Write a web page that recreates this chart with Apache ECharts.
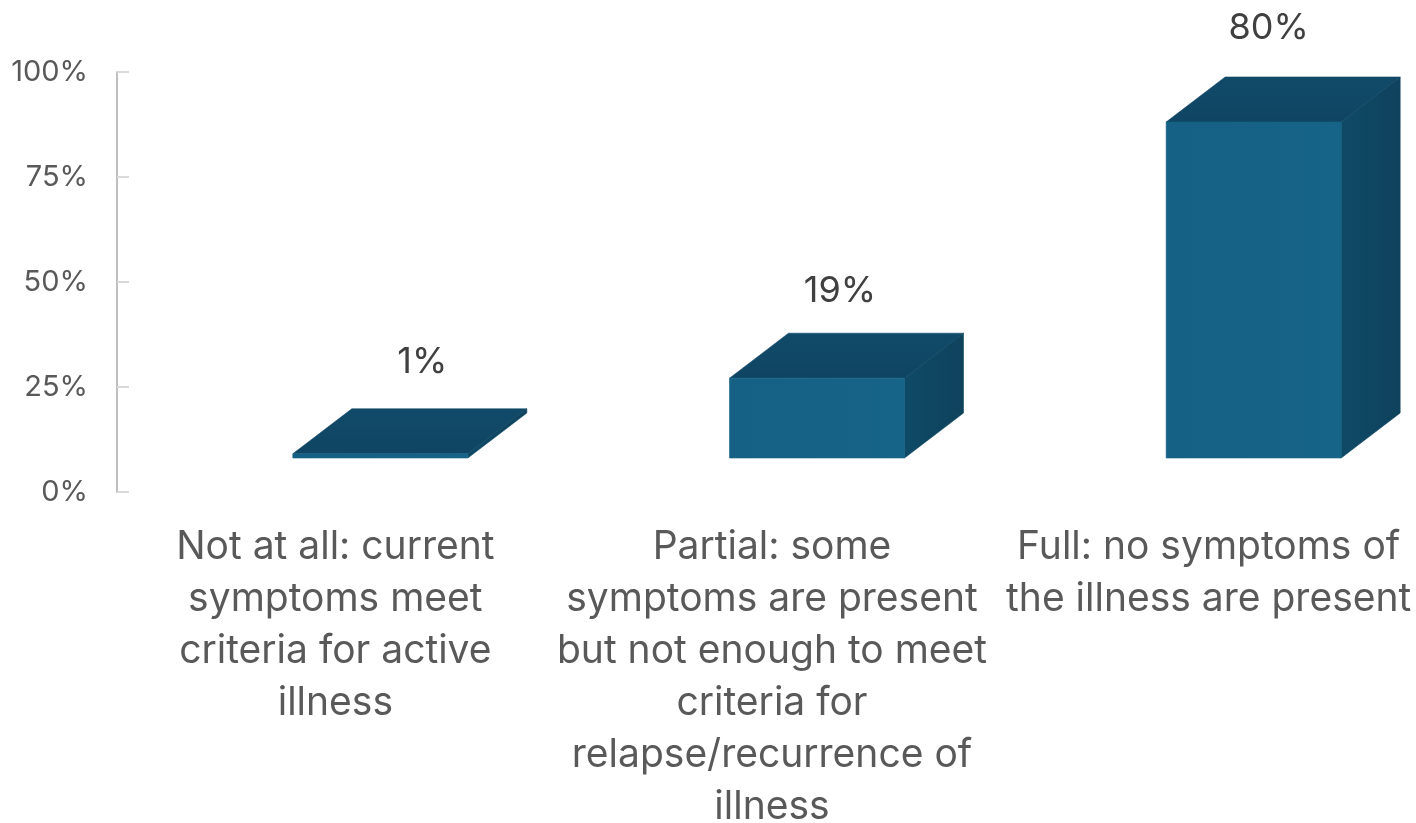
<!DOCTYPE html>
<html><head><meta charset="utf-8">
<script src="https://cdn.jsdelivr.net/npm/echarts@6/dist/echarts.min.js"></script>
<style>html,body{margin:0;padding:0;background:#fff}#c{width:1416px;height:823px}</style>
</head><body><div id="c"></div>
<script>
const categories = [
  "Not at all: current\nsymptoms meet\ncriteria for active\nillness",
  "Partial: some\nsymptoms are present\nbut not enough to meet\ncriteria for\nrelapse/recurrence of\nillness",
  "Full: no symptoms of\nthe illness are present"
];
const values = [1, 19, 80];
const yTicks = [0, 25, 50, 75, 100];

const FONT = 'Inter, sans-serif';
const BAR_W = 175, DX = 59, DY = 45, SHIFT_X = 45, BASE_UP = 34;
const LABEL_NUDGE_X = [42, 23, 15];
const LABEL_NUDGE_Y = [2, 7, 0];

function grad(x0, y0, x1, y1, a, b) {
  return { type: 'linear', x: x0, y: y0, x2: x1, y2: y1, colorStops: [{offset: 0, color: a}, {offset: 1, color: b}] };
}
function renderBar(params, api) {
  const i = api.value(0), v = api.value(1);
  const base = api.coord([i, 0]), top = api.coord([i, v]);
  const l = base[0] + SHIFT_X - BAR_W / 2, r = l + BAR_W;
  const b = base[1] - BASE_UP, t = top[1] - BASE_UP;
  const poly = (pts, fill, edge) => ({ type: 'polygon', shape: { points: pts }, style: { fill, stroke: edge, lineWidth: 0.6 } });
  return {
    type: 'group',
    children: [
      poly([[l, t], [r, t], [r + DX, t - DY], [l + DX, t - DY]], grad(0, 0, 0, 1, '#114a69', '#0f4563'), '#104766'),
      poly([[r, b], [r, t], [r + DX, t - DY], [r + DX, b - DY]], grad(0, 0, 1, 0, '#0e4a66', '#0f425d'), '#0e4661'),
      poly([[l, b], [r, b], [r, t], [l, t]], grad(0, 0, 1, 0, '#156085', '#166488'), '#156286'),
      { type: 'text', style: {
          text: v + '%', x: (l + r) / 2 + LABEL_NUDGE_X[i], y: t - DY - 49 + LABEL_NUDGE_Y[i],
          align: 'center', verticalAlign: 'middle',
          font: '36px ' + FONT, fill: '#404040' } }
    ]
  };
}

const chart = echarts.init(document.getElementById('c'), null, { renderer: 'canvas' });
chart.setOption({
  animation: false,
  backgroundColor: '#fff',
  grid: { left: 117, top: 72, width: 1310, height: 420, containLabel: false, outerBoundsMode: 'none' },
  xAxis: {
    type: 'category', data: categories,
    axisLine: { show: false }, axisTick: { show: false },
    axisLabel: { interval: 0, margin: 29, lineHeight: 52, fontSize: 39, color: '#595959', fontFamily: FONT, verticalAlign: 'top', hideOverlap: false }
  },
  yAxis: {
    type: 'value', min: yTicks[0], max: yTicks[yTicks.length - 1], interval: yTicks[1] - yTicks[0],
    splitLine: { show: false },
    axisLine: { show: true, lineStyle: { color: '#bfbfbf', width: 2 } },
    axisTick: { show: true, inside: true, length: 12, lineStyle: { color: '#d9d9d9', width: 2 } },
    axisLabel: { margin: 29, fontSize: 29, color: '#595959', fontFamily: FONT, formatter: '{value}%', padding: [4, 0, 0, 0] }
  },
  series: [{
    type: 'custom', clip: false, renderItem: renderBar,
    encode: { x: 0, y: 1 },
    data: values.map((v, i) => [i, v])
  }]
});
</script></body></html>
